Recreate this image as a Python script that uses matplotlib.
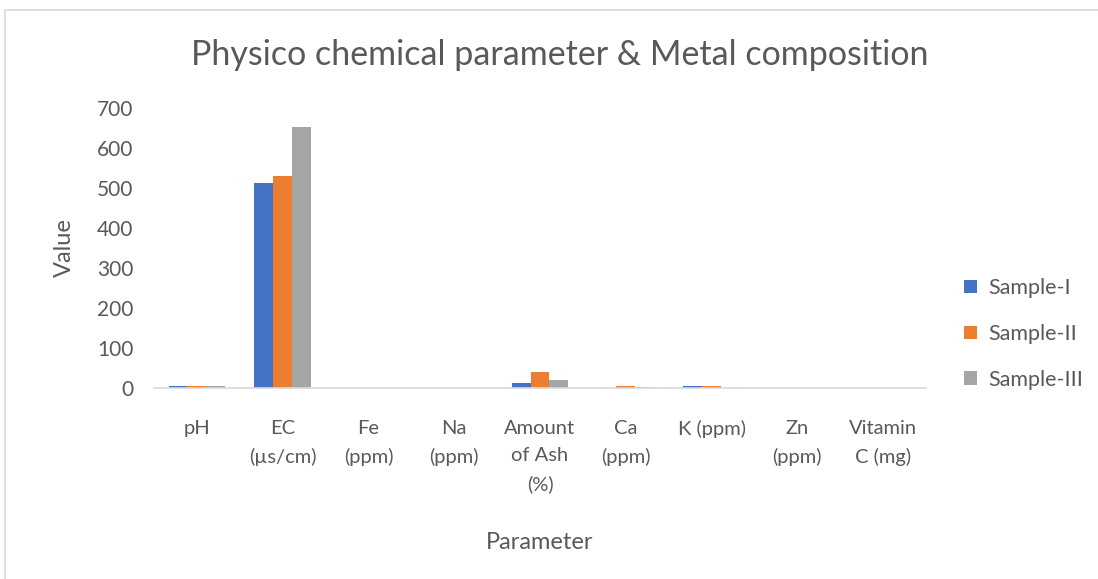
import matplotlib.pyplot as plt
import matplotlib.patches as patches
import numpy as np

# data
parameters = ['pH', 'EC\n(µs/cm)', 'Fe\n(ppm)', 'Na\n(ppm)', 'Amount\nof Ash\n(%)',
              'Ca\n(ppm)', 'K (ppm)', 'Zn\n(ppm)', 'Vitamin\nC (mg)']
sample_1 = [6.2, 513, 0.3, 0.2, 13, 0.5, 4.5, 0.2, 0.1]
sample_2 = [6.0, 530, 0.4, 0.3, 40, 4.0, 4.0, 0.2, 0.1]
sample_3 = [6.1, 652, 0.3, 0.2, 20, 3.5, 0.5, 0.1, 0.1]
series_names = ['Sample-I', 'Sample-II', 'Sample-III']
colors = ['#4472C4', '#ED7D31', '#A5A5A5']
y_ticks = [0, 100, 200, 300, 400, 500, 600, 700]

plt.rcParams['font.family'] = ['Lato', 'DejaVu Sans']
text_color = '#595959'

fig = plt.figure(figsize=(10.98, 5.79), dpi=100)
ax = fig.add_axes([154 / 1098, 1 - 388 / 579, (926 - 154) / 1098, 280 / 579])

x = np.arange(len(parameters))
w = 0.22
for i, (vals, name, c) in enumerate(zip([sample_1, sample_2, sample_3], series_names, colors)):
    ax.bar(x + (i - 1) * w, vals, width=w, color=c, label=name)

ax.set_xlim(-0.5, len(parameters) - 0.5)
ax.set_ylim(0, 700)
ax.set_yticks(y_ticks)
ax.set_xticks(x)
ax.set_xticklabels(parameters, fontsize=14.5, color=text_color, linespacing=1.75, va='top')
ax.tick_params(axis='y', labelsize=15, colors=text_color, length=0, pad=15)
ax.tick_params(axis='x', length=0, pad=23)

for s in ['top', 'right', 'left']:
    ax.spines[s].set_visible(False)
ax.spines['bottom'].set_color('#D9D9D9')
ax.spines['bottom'].set_linewidth(1.2)

ax.set_ylabel('Value', fontsize=17, color=text_color, labelpad=16)
ax.set_xlabel('Parameter', fontsize=17, color=text_color, labelpad=28)
fig.text(560 / 1098, 1 - 55 / 579, 'Physico chemical parameter & Metal composition',
         ha='center', va='center', fontsize=24.5, color=text_color)

leg = ax.legend(loc='center left', bbox_to_anchor=(945 / 1098, 1 - 334 / 579),
                bbox_transform=fig.transFigure, frameon=False, fontsize=15.5,
                handlelength=0.6, handleheight=0.6, labelspacing=1.2, handletextpad=0.5)
for t in leg.get_texts():
    t.set_color(text_color)

# light frame around the chart area
fig.patches.append(patches.Rectangle((5 / 1098, -0.05), 1.1, 1 - 10 / 579 + 0.05,
                                     transform=fig.transFigure, fill=False,
                                     edgecolor='#D9D9D9', linewidth=1.2))

fig.savefig('out.png', dpi=100)
